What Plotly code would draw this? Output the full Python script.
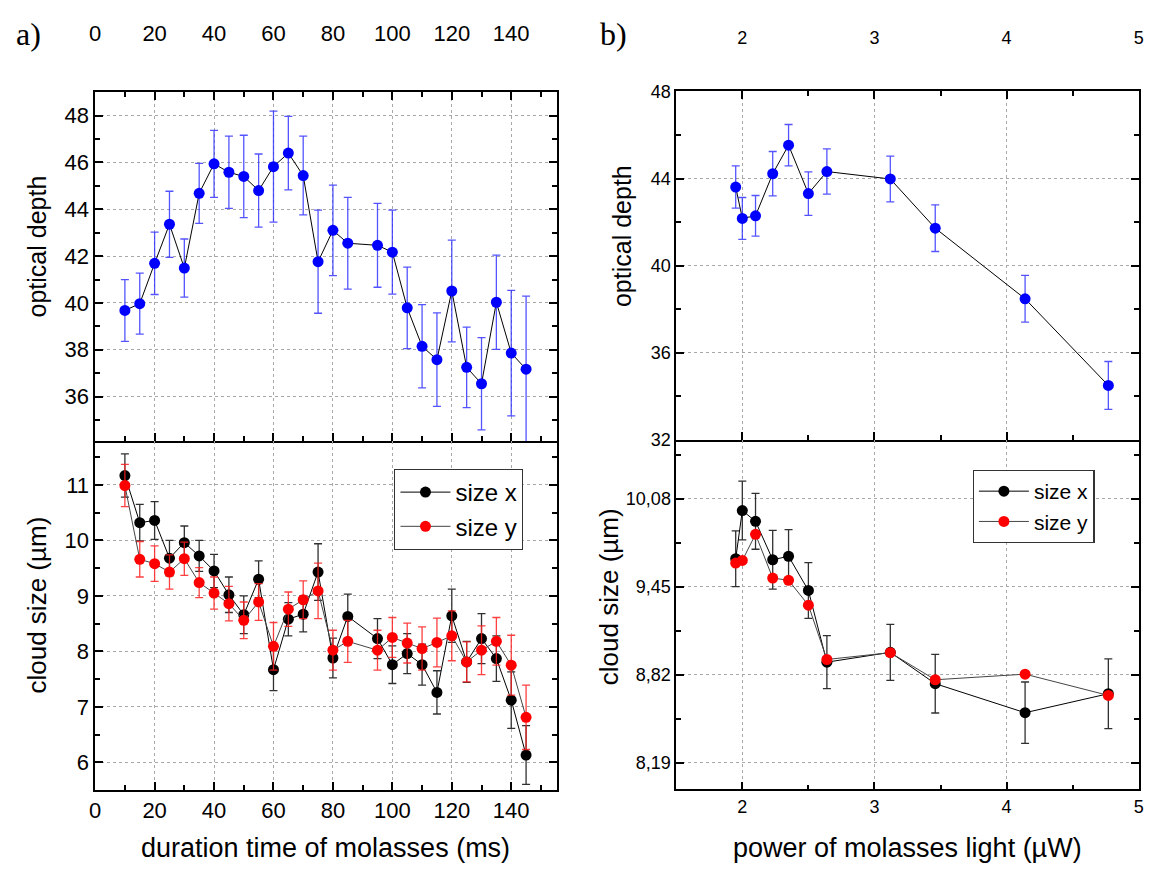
import plotly.graph_objects as go

W, H = 1153, 877

# ---------------- data: panel a) ----------------
t_ms = [10, 15, 20, 25, 30, 35, 40, 45, 50, 55, 60, 65, 70, 75, 80, 85,
        95, 100, 105, 110, 115, 120, 125, 130, 135, 140, 145]
od_a = [39.68, 39.97, 41.69, 43.36, 41.49, 44.68, 45.94, 45.58, 45.40, 44.80,
        45.82, 46.40, 45.44, 41.76, 43.10, 42.55, 42.46, 42.17, 39.79, 38.15,
        37.58, 40.51, 37.25, 36.55, 40.03, 37.86, 37.17]
od_a_err = [1.32, 1.30, 1.33, 1.41, 1.24, 1.28, 1.43, 1.54, 1.76, 1.56,
            2.37, 1.57, 1.68, 2.20, 1.93, 1.96, 1.79, 1.79, 1.74, 1.78,
            2.00, 2.17, 1.72, 1.97, 2.01, 2.68, 3.12]
sx_a = [11.17, 10.32, 10.36, 9.68, 9.96, 9.72, 9.45, 9.02, 8.66, 9.30,
        7.67, 8.58, 8.67, 9.43, 7.88, 8.63, 8.23, 7.76, 7.96, 7.76,
        7.26, 8.64, 7.81, 8.23, 7.87, 7.12, 6.13]
sx_a_err = [0.39, 0.33, 0.34, 0.32, 0.30, 0.28, 0.30, 0.32, 0.34, 0.33,
            0.38, 0.30, 0.32, 0.51, 0.36, 0.40, 0.36, 0.34, 0.36, 0.37,
            0.39, 0.48, 0.37, 0.45, 0.41, 0.51, 0.53]
sy_a = [10.99, 9.66, 9.58, 9.43, 9.67, 9.24, 9.05, 8.86, 8.56, 8.89,
        8.09, 8.76, 8.93, 9.09, 8.02, 8.18, 8.02, 8.25, 8.15, 8.05,
        8.16, 8.28, 7.81, 8.02, 8.18, 7.75, 6.81]
sy_a_err = [0.38, 0.32, 0.32, 0.31, 0.30, 0.27, 0.29, 0.31, 0.33, 0.33,
            0.43, 0.31, 0.34, 0.50, 0.36, 0.38, 0.36, 0.36, 0.36, 0.39,
            0.44, 0.45, 0.36, 0.44, 0.43, 0.54, 0.58]

# ---------------- data: panel b) ----------------
p_uw = [1.95, 2.00, 2.10, 2.23, 2.35, 2.50, 2.64, 3.12, 3.46, 4.14, 4.77]
od_b = [43.61, 42.17, 42.29, 44.22, 45.53, 43.31, 44.32, 43.98, 41.72, 38.48, 34.50]
od_b_err = [0.97, 0.96, 0.93, 1.02, 0.95, 1.00, 1.04, 1.05, 1.07, 1.07, 1.10]
sx_b = [9.651, 9.996, 9.919, 9.644, 9.669, 9.424, 8.911, 8.981, 8.757, 8.549, 8.685]
sx_b_err = [0.20, 0.21, 0.20, 0.21, 0.19, 0.20, 0.19, 0.20, 0.21, 0.22, 0.25]
sy_b = [9.620, 9.639, 9.826, 9.513, 9.497, 9.319, 8.930, 8.979, 8.785, 8.825, 8.673]

BLUE = "#0000ff"
BLUE_ERR = "rgba(40,40,255,0.8)"
RED = "#ff0000"
RED_ERR = "rgba(255,30,30,0.85)"
BLACK_ERR = "#303030"

fig = go.Figure()


def add(x, y, err, color, errcolor, xa, ya, name=None, legend=None,
        linecolor="black", show=False, msize=11):
    ed = dict(type="data", array=err, visible=True, color=errcolor,
              thickness=1.3, width=4) if err is not None else None
    fig.add_trace(go.Scatter(
        x=x, y=y, mode="lines+markers", name=name,
        line=dict(color=linecolor, width=1),
        marker=dict(color=color, size=msize, line=dict(width=0)),
        error_y=ed, xaxis=xa, yaxis=ya, showlegend=show,
        legend=legend if legend else "legend"))


add(t_ms, od_a, od_a_err, BLUE, BLUE_ERR, "x", "y")
add(t_ms, sx_a, sx_a_err, "black", BLACK_ERR, "x2", "y2", "size x", "legend", "black", True)
add(t_ms, sy_a, sy_a_err, RED, RED_ERR, "x2", "y2", "size y", "legend", "#444444", True)
add(p_uw, od_b, od_b_err, BLUE, BLUE_ERR, "x3", "y3")
add(p_uw, sx_b, sx_b_err, "black", BLACK_ERR, "x4", "y4", "size x", "legend2", "black", True)
add(p_uw, sy_b, None, RED, None, "x4", "y4", "size y", "legend2", "#444444", True)


def px(x):
    return x / W


def py(y):
    return 1 - y / H


FONT = "Liberation Sans, Arial, sans-serif"

base = dict(showline=True, linecolor="black", linewidth=1.5,
            ticks="inside", ticklen=8, tickwidth=1.5, tickcolor="black",
            showgrid=True, gridcolor="#a8a8a8", griddash="3px,3px", gridwidth=1,
            zeroline=False,
            minor=dict(ticks="inside", ticklen=5, tickwidth=1.5,
                       tickcolor="black", showgrid=False))

LX = [px(90), px(556)]
RX = [px(676.7), px(1143.7)]
TOPL = [py(441.7), py(85)]
BOTL = [py(798.3), py(441.7)]
TOPR = [py(440.7), py(84)]
BOTR = [py(797.7), py(440.7)]

fig.update_layout(
    width=W, height=H, margin=dict(l=0, r=0, t=0, b=0),
    paper_bgcolor="white", plot_bgcolor="white",
    separators=",.",
    font=dict(family=FONT, color="black"),
    xaxis=dict(base, domain=LX, anchor="y", side="top", range=[-0.01, 155.3],
               tick0=0, dtick=20, minor=dict(base["minor"], dtick=10),
               mirror="allticks", tickfont=dict(size=22), ticklabelstandoff=41),
    yaxis=dict(base, domain=TOPL, anchor="x", range=[34.1, 49.0],
               tick0=36, dtick=2, minor=dict(base["minor"], dtick=1),
               mirror="allticks", tickfont=dict(size=22)),
    xaxis2=dict(base, domain=LX, anchor="y2", side="bottom", range=[-0.01, 155.3],
                tick0=0, dtick=20, minor=dict(base["minor"], dtick=10),
                mirror=False, tickfont=dict(size=22)),
    yaxis2=dict(base, domain=BOTL, anchor="x2", range=[5.5, 11.79],
                tick0=6, dtick=1, minor=dict(base["minor"], dtick=0.5),
                mirror="allticks", tickfont=dict(size=22)),
    xaxis3=dict(base, domain=RX, anchor="y3", side="top", range=[1.5, 5.0005],
                tick0=2, dtick=1, minor=dict(base["minor"], dtick=0.5),
                mirror="allticks", tickfont=dict(size=18), ticklabelstandoff=38),
    yaxis3=dict(base, domain=TOPR, anchor="x3", range=[31.99, 48.01],
                tick0=32, dtick=4, minor=dict(base["minor"], dtick=2),
                mirror="allticks", tickfont=dict(size=18)),
    xaxis4=dict(base, domain=RX, anchor="y4", side="bottom", range=[1.5, 5.0005],
                tick0=2, dtick=1, minor=dict(base["minor"], dtick=0.5),
                mirror=False, tickfont=dict(size=18)),
    yaxis4=dict(base, domain=BOTR, anchor="x4", range=[8.0, 10.5],
                tick0=8.19, dtick=0.63, tickformat=".2f",
                minor=dict(base["minor"], tick0=8.19, dtick=0.315),
                mirror="allticks", tickfont=dict(size=18)),
    legend=dict(x=px(392), y=py(470), xanchor="left", yanchor="top",
                bgcolor="white", bordercolor="#333", borderwidth=1.2,
                font=dict(size=24, family=FONT), itemwidth=50, tracegroupgap=0),
    legend2=dict(x=px(976), y=py(471), xanchor="left", yanchor="top",
                 bgcolor="white", bordercolor="#333", borderwidth=1.2,
                 font=dict(size=21, family=FONT), itemwidth=50, tracegroupgap=0),
)

ann = [
    dict(text="a)", x=px(23), y=py(26), font=dict(size=32, family="Liberation Serif, serif")),
    dict(text="b)", x=px(613), y=py(26), font=dict(size=32, family="Liberation Serif, serif")),
    dict(text="optical depth", x=px(31), y=py(243), textangle=-90, font=dict(size=25)),
    dict(text="cloud size (µm)", x=px(31), y=py(609), textangle=-90, font=dict(size=26)),
    dict(text="optical depth", x=px(622), y=py(232), textangle=-90, font=dict(size=25)),
    dict(text="cloud size (µm)", x=px(609), y=py(601), textangle=-90, font=dict(size=26)),
    dict(text="duration time of molasses (ms)", x=px(323), y=py(858), font=dict(size=27)),
    dict(text="power of molasses light (µW)", x=px(910), y=py(858), font=dict(size=27)),
]
for a in ann:
    a.update(xref="paper", yref="paper", showarrow=False,
             xanchor="center", yanchor="middle")
    a.setdefault("font", {})
    a["font"].setdefault("family", FONT)
    a["font"]["color"] = "black"
fig.update_layout(annotations=ann)

fig.write_html("out.html")
